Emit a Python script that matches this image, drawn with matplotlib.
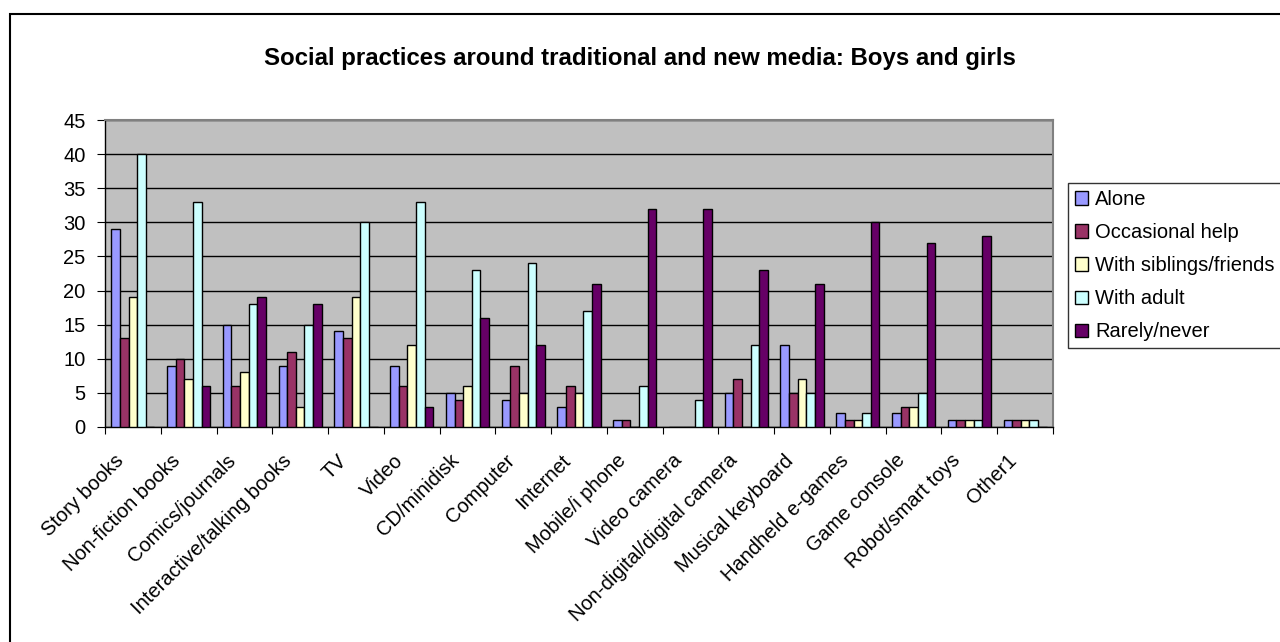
import matplotlib
matplotlib.use("Agg")
import matplotlib.pyplot as plt
import numpy as np
from matplotlib.patches import Rectangle

categories = ["Story books", "Non-fiction books", "Comics/journals", "Interactive/talking books",
              "TV", "Video", "CD/minidisk", "Computer", "Internet", "Mobile/i phone",
              "Video camera", "Non-digital/digital camera", "Musical keyboard",
              "Handheld e-games", "Game console", "Robot/smart toys", "Other1"]
series_names = ["Alone", "Occasional help", "With siblings/friends", "With adult", "Rarely/never"]
alone      = [29, 9, 15, 9, 14, 9, 5, 4, 3, 1, 0, 5, 12, 2, 2, 1, 1]
occasional = [13, 10, 6, 11, 13, 6, 4, 9, 6, 1, 0, 7, 5, 1, 3, 1, 1]
siblings   = [19, 7, 8, 3, 19, 12, 6, 5, 5, 0, 0, 0, 7, 1, 3, 1, 1]
adult      = [40, 33, 18, 15, 30, 33, 23, 24, 17, 6, 4, 12, 5, 2, 5, 1, 1]
rarely     = [0, 6, 19, 18, 0, 3, 16, 12, 21, 32, 32, 23, 21, 30, 27, 28, 0]
y_ticks = [0, 5, 10, 15, 20, 25, 30, 35, 40, 45]
title = "Social practices around traditional and new media: Boys and girls"

colors = ["#9999FF", "#993366", "#FFFFCC", "#CCFFFF", "#660066"]
data = [alone, occasional, siblings, adult, rarely]

plt.rcParams['font.family'] = ['Liberation Sans', 'DejaVu Sans']

fig = plt.figure(figsize=(12.8, 6.42), dpi=100)
W, H = 1280, 642
# outer chart border (right/bottom clipped)
fig.patches.append(Rectangle((10 / W, -0.1), 1.2, 1 - 14 / H + 0.1, transform=fig.transFigure,
                             fill=False, edgecolor="black", linewidth=1.5))

ax = fig.add_axes([105 / W, 1 - 427 / H, (1053 - 105) / W, (427 - 120) / H])
ax.set_facecolor("#C0C0C0")

n = len(categories)
x = np.arange(n)
bw = 0.155
handles = []
for i, (vals, c, name) in enumerate(zip(data, colors, series_names)):
    h = ax.bar(x + (i - 2) * bw, vals, width=bw, color=c, edgecolor="black",
               linewidth=1.0, label=name, zorder=3)
    handles.append(h)

ax.set_xlim(-0.5, n - 0.5)
ax.set_ylim(0, 45)
ax.set_yticks(y_ticks)
ax.set_yticklabels([str(t) for t in y_ticks], fontsize=14.5)
ax.yaxis.grid(True, color="black", linewidth=1.0, zorder=0)
ax.set_axisbelow(True)

ax.set_xticks(np.arange(-0.5, n, 1.0), minor=False)
ax.set_xticklabels([])
ax.tick_params(axis='x', direction='out', length=5, color='black')
ax.tick_params(axis='y', direction='out', length=6, color='black', pad=8)
for i, c in enumerate(categories):
    ax.text(i - 0.33, -3.5, c, rotation=45, ha='right', va='top', rotation_mode='anchor',
            fontsize=14.5, transform=ax.transData, clip_on=False)

for s in ["top", "right"]:
    ax.spines[s].set_color("#808080")
    ax.spines[s].set_linewidth(1.5)
for s in ["left", "bottom"]:
    ax.spines[s].set_color("black")
    ax.spines[s].set_linewidth(1.0)

fig.text(640 / W, 1 - 58 / H, title, ha='center', va='center', fontsize=17.3, fontweight='bold')

leg = fig.legend(handles=handles, labels=series_names, loc='upper left',
                 bbox_to_anchor=(1068 / W, 1 - 183 / H), fontsize=14.5,
                 frameon=True, fancybox=False, handlelength=0.65, handleheight=0.65,
                 handletextpad=0.35, labelspacing=0.7, borderpad=0.35, borderaxespad=0)
leg.get_frame().set_edgecolor("black")
leg.get_frame().set_linewidth(1.0)

fig.savefig("out.png", dpi=100)
